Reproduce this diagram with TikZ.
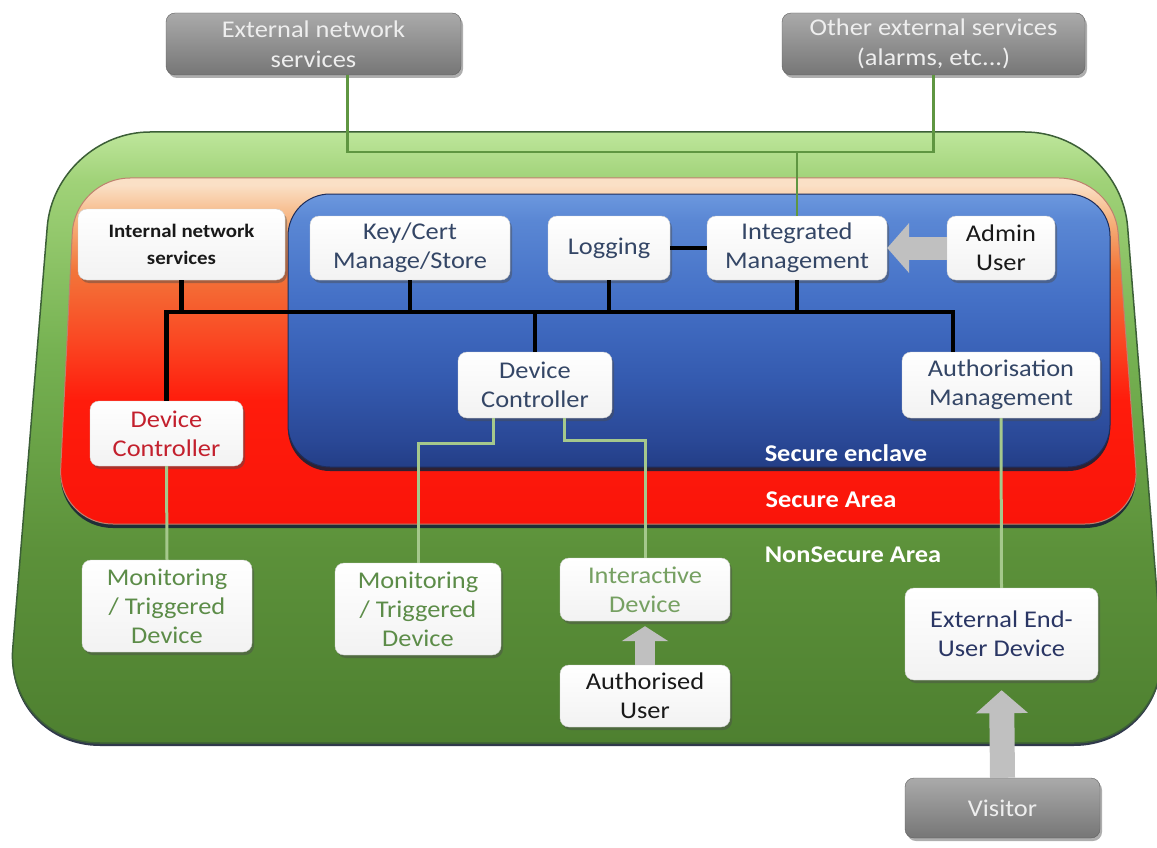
\documentclass[tikz,border=0pt]{standalone}
\usepackage{fontspec}
\setmainfont{Carlito}[FakeStretch=1.1]
\usetikzlibrary{shadows,arrows.meta,calc}

\definecolor{gA}{RGB}{78,128,48}
\definecolor{gB}{RGB}{92,145,58}
\definecolor{gC}{RGB}{118,178,82}
\definecolor{gD}{RGB}{160,210,120}
\definecolor{gE}{RGB}{190,230,155}
\definecolor{gEdge}{RGB}{60,95,55}
\definecolor{rA}{RGB}{250,20,10}
\definecolor{rB}{RGB}{255,28,12}
\definecolor{rC}{RGB}{250,72,35}
\definecolor{rD}{RGB}{242,118,58}
\definecolor{rE}{RGB}{246,178,125}
\definecolor{rF}{RGB}{250,224,198}
\definecolor{rEdge}{RGB}{190,130,110}
\definecolor{bA}{RGB}{35,62,135}
\definecolor{bB}{RGB}{42,72,150}
\definecolor{bC}{RGB}{52,90,175}
\definecolor{bD}{RGB}{68,112,198}
\definecolor{bE}{RGB}{90,135,212}
\definecolor{bF}{RGB}{108,152,222}
\definecolor{bEdge}{RGB}{30,45,90}
\definecolor{shadowc}{RGB}{25,35,55}
\definecolor{slate}{RGB}{52,70,102}
\definecolor{navy}{RGB}{42,54,100}
\definecolor{redtxt}{RGB}{195,32,45}
\definecolor{grntxt}{RGB}{92,140,72}
\definecolor{grntxtl}{RGB}{118,160,98}
\definecolor{blk}{RGB}{25,25,25}
\definecolor{greyTop}{RGB}{170,170,170}
\definecolor{greyBot}{RGB}{118,118,118}
\definecolor{greyEdge}{RGB}{95,95,95}
\definecolor{greyTxt}{RGB}{238,238,238}
\definecolor{topline}{RGB}{95,150,65}
\definecolor{plinec}{RGB}{165,200,140}
\definecolor{arrowc}{RGB}{192,192,192}

\pgfdeclareverticalshading{greenarea}{100bp}{color(0bp)=(gA); color(25bp)=(gA); color(40.8bp)=(gB); color(57.2bp)=(gC); color(71bp)=(gD); color(75bp)=(gE); color(100bp)=(gE)}
\pgfdeclareverticalshading{securearea}{100bp}{color(0bp)=(rA); color(25bp)=(rA); color(42.9bp)=(rB); color(51.7bp)=(rC); color(61.8bp)=(rD); color(68.9bp)=(rE); color(74bp)=(rF); color(100bp)=(rF)}
\pgfdeclareverticalshading{enclave}{100bp}{color(0bp)=(bA); color(25bp)=(bA); color(29.9bp)=(bB); color(40.9bp)=(bC); color(55.6bp)=(bD); color(70.2bp)=(bE); color(75bp)=(bF); color(100bp)=(bF)}

\begin{document}
\begin{tikzpicture}[x=1pt,y=-1pt,
  wbox/.style={rounded corners=9pt, draw=gray!35, top color=white, bottom color=gray!10,
    drop shadow={shadow xshift=2pt, shadow yshift=-3pt, opacity=0.45, fill=black!70},
    align=center, inner sep=0pt, font=\fontsize{24}{29}\selectfont},
  gbox/.style={rounded corners=9pt, draw=greyEdge, top color=greyTop, bottom color=greyBot,
    drop shadow={shadow xshift=2pt, shadow yshift=-3pt, opacity=0.45, fill=black!70},
    align=center, inner sep=0pt, text=greyTxt, font=\fontsize{24}{30}\selectfont},
  rlabel/.style={text=white, font=\bfseries\fontsize{24}{29}\selectfont, inner sep=0pt},
  bus/.style={draw=black, line width=4.5pt, line join=miter},
  tline/.style={draw=topline, line width=2.5pt},
  pline/.style={draw=plinec, line width=3pt},
  barrow/.style={draw=arrowc}
]
\useasboundingbox (0,0) rectangle (1157,848);

% ---- regions ----
\path[shading=greenarea, draw=gEdge, line width=1.5pt, rounded corners=95pt,
  drop shadow={shadow xshift=0pt, shadow yshift=-3pt, fill=shadowc, opacity=0.9}]
  (55,132) -- (1120,132) -- (1169,743) -- (5,743) -- cycle;
\path[shading=securearea, draw=rEdge, line width=1pt, rounded corners=55pt,
  drop shadow={shadow xshift=0pt, shadow yshift=-4pt, fill=shadowc, opacity=0.9}]
  (75,178) -- (1114,178) -- (1140,524) -- (58,524) -- cycle;
\path[shading=enclave, draw=bEdge, line width=1pt, rounded corners=42pt,
  drop shadow={shadow xshift=0pt, shadow yshift=-4pt, fill=shadowc, opacity=0.9}]
  (288,194) rectangle (1110,467);

\node[rlabel] (lenc) at (846,453) {Secure enclave};
\node[rlabel] (lsec) at (831,500) {Secure Area};
\node[rlabel] (lnon) at (853,555) {NonSecure Area};

% ---- nodes ----
\node[gbox, minimum width=295pt, minimum height=62pt] (extnet) at (313.5,44) {External network\\services};
\node[gbox, minimum width=303pt, minimum height=62pt] (othext) at (933.5,44) {Other external services\\(alarms, etc...)};
\node[gbox, minimum width=195pt, minimum height=60pt] (visitor) at (1002.5,808) {Visitor};

\node[wbox, minimum width=207pt, minimum height=71pt, text=blk, font=\bfseries\fontsize{19}{27}\selectfont] (intnet) at (181.5,244.5) {Internal network\\services};
\node[wbox, minimum width=200pt, minimum height=64pt, text=slate] (key) at (410,248) {Key/Cert\\Manage/Store};
\node[wbox, minimum width=122pt, minimum height=64pt, text=slate] (logging) at (609,248) {Logging};
\node[wbox, minimum width=180pt, minimum height=64pt, text=slate] (integ) at (797,248) {Integrated\\Management};
\node[wbox, minimum width=108pt, minimum height=64pt, text=blk] (admin) at (1001,248) {Admin\\User};
\node[wbox, minimum width=154pt, minimum height=66pt, text=slate] (dcblue) at (535,385) {Device\\Controller};
\node[wbox, minimum width=198pt, minimum height=66pt, text=slate] (auth) at (1001,385) {Authorisation\\Management};
\node[wbox, minimum width=153pt, minimum height=65pt, text=redtxt] (dcred) at (166.5,433.5) {Device\\Controller};
\node[wbox, minimum width=170pt, minimum height=92pt, text=grntxt] (mon1) at (167,606) {Monitoring\\/ Triggered\\Device};
\node[wbox, minimum width=166pt, minimum height=92pt, text=grntxt] (mon2) at (418,609) {Monitoring\\/ Triggered\\Device};
\node[wbox, minimum width=170pt, minimum height=63pt, text=grntxtl] (inter) at (645,589.5) {Interactive\\Device};
\node[wbox, minimum width=170pt, minimum height=62pt, text=blk] (authuser) at (645,696) {Authorised\\User};
\node[wbox, minimum width=193pt, minimum height=92pt, text=navy] (extuser) at (1001.5,634) {External End-\\User Device};

% ---- connectors: external ----
\coordinate (tj) at (797,152);
\draw[tline] ([xshift=34pt]extnet.south) |- (tj) -| (othext.south);
\draw[tline] (tj) -- (integ.north);

% ---- connectors: bus ----
\coordinate (bl) at (166.5,312);
\coordinate (br) at (953,312);
\draw[bus] (dcred.north) |- (br) -- (br |- auth.north);
\draw[bus] (intnet.south) -- (intnet.south |- bl);
\draw[bus] (key.south) -- (key.south |- bl);
\draw[bus] (logging.south) -- (logging.south |- bl);
\draw[bus] (integ.south) -- (integ.south |- bl);
\draw[bus] (dcblue.north) -- (dcblue.north |- bl);
\draw[bus] (logging.east) -- (integ.west);

% ---- connectors: devices ----
\draw[pline] (dcred.south) -- (mon1.north);
\draw[pline] ([xshift=-42pt]dcblue.south) -- ++(0,25) -| (mon2.north);
\draw[pline] ([xshift=29pt]dcblue.south) -- ++(0,22) -| (inter.north);
\draw[pline] (auth.south) -- (extuser.north);

% ---- block arrows ----
\draw[barrow, line width=23pt, -{Triangle[width=49pt,length=22pt]}] (admin.west) -- (integ.east);
\draw[barrow, line width=20pt, -{Triangle[width=46pt,length=15pt]}, shorten >=5pt] (authuser.north) -- (inter.south);
\draw[barrow, line width=25pt, -{Triangle[width=51pt,length=23pt]}, shorten >=10pt] (visitor.north) -- (extuser.south);
\end{tikzpicture}
\end{document}
